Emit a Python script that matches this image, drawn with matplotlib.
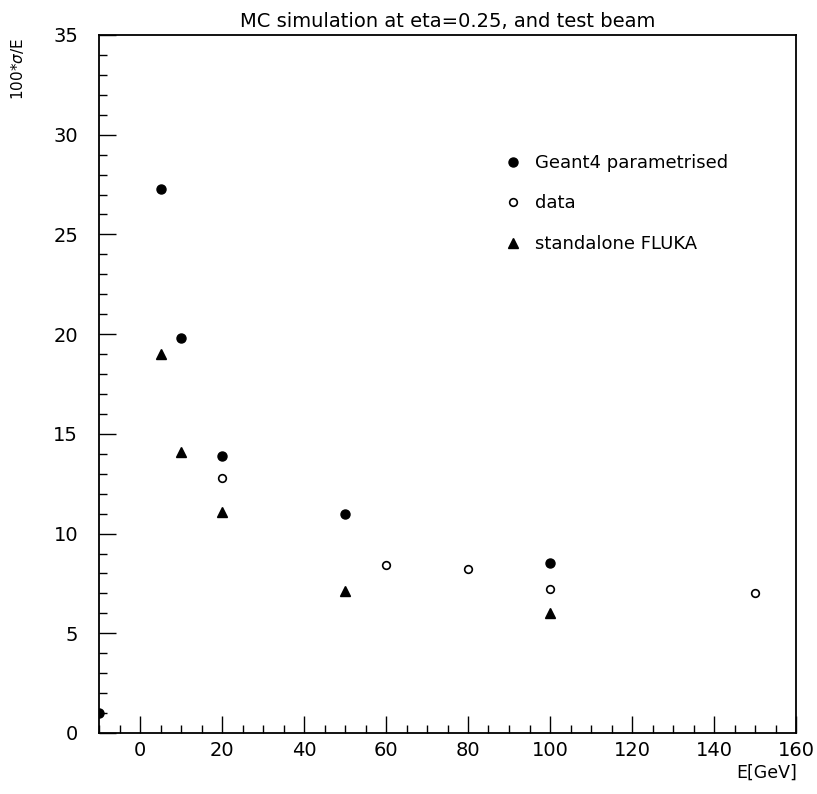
import matplotlib
matplotlib.use('Agg')
import matplotlib.pyplot as plt
from matplotlib.ticker import MultipleLocator

plt.rcParams['font.family'] = ['DejaVu Sans']

# energies [GeV] and resolution 100*sigma/E
geant_e = [-10, 5, 10, 20, 50, 100]
geant_res = [1.0, 27.3, 19.8, 13.9, 11.0, 8.5]

data_e = [20, 60, 80, 100, 150]
data_res = [12.8, 8.4, 8.2, 7.2, 7.0]

fluka_e = [5, 10, 20, 50, 100]
fluka_res = [19.0, 14.1, 11.1, 7.1, 6.0]

fig = plt.figure(figsize=(8.17, 7.94), dpi=100)
ax = fig.add_axes([99/817, 1 - 733/794, 697/817, 698/794])

ax.plot(geant_e, geant_res, 'o', color='black', ms=6.5, label='Geant4 parametrised')
ax.plot(data_e, data_res, 'o', mfc='white', mec='black', mew=1.2, ms=5.5, label='data')
ax.plot(fluka_e, fluka_res, '^', color='black', ms=6.5, label='standalone FLUKA')

ax.set_xlim(-10, 160)
ax.set_ylim(0, 35)
ax.xaxis.set_major_locator(MultipleLocator(20))
ax.xaxis.set_minor_locator(MultipleLocator(5))
ax.yaxis.set_major_locator(MultipleLocator(5))
ax.yaxis.set_minor_locator(MultipleLocator(1))
ax.tick_params(which='both', direction='in', top=False, right=False, labelsize=14, color='black')
ax.tick_params(which='major', length=12, width=1)
ax.tick_params(which='minor', length=6, width=1)
ax.tick_params(axis='x', pad=6)
ax.tick_params(axis='y', pad=15)
for s in ax.spines.values():
    s.set_linewidth(1.3)

ax.set_title('MC simulation at eta=0.25, and test beam', fontsize=14, pad=6)
fig.text(18/817, 1 - 38/794, '100*$\\sigma$/E', rotation=90, ha='center', va='top', fontsize=11)
fig.text(797/817, 1 - 773/794, 'E[GeV]', ha='right', va='center', fontsize=12.5)

ax.legend(loc='upper left', bbox_to_anchor=(0.555, 0.853), frameon=False,
          fontsize=13, labelspacing=1.25, handlelength=1.2, handletextpad=0.6,
          numpoints=1)

fig.savefig('out.png', dpi=100)
